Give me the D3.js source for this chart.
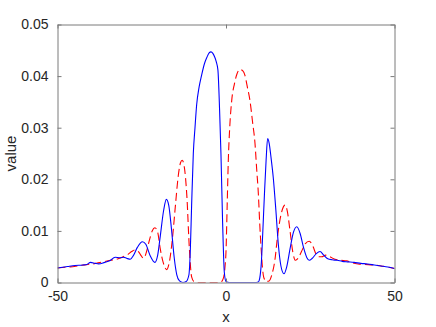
<!DOCTYPE html>
<html>
<head>
<meta charset="utf-8">
<script src="https://cdn.jsdelivr.net/npm/d3@7/dist/d3.min.js"></script>
<style>
  html, body { margin: 0; padding: 0; background: #fff; }
  svg { display: block; }
  text { font-family: "Liberation Sans", Arial, Helvetica, sans-serif; fill: #262626; }
</style>
</head>
<body>
<svg id="chart" width="436" height="327"></svg>
<script>
// ---- data ----
const blueX = [-50, -47, -44.8, -42.5, -41.3, -40.2, -38.8, -37.8, -36, -34.5, -32.9, -31.4, -30.4, -29.5, -28.4,
  -27.5, -26.3, -24.8, -23.8, -22.5, -21.1, -20.3, -19.5, -18.5, -17.7, -17.0, -16.2, -15.4, -14.6, -13.8,
  -12.8, -11.8, -11.0, -10.6, -10.2, -9.7, -9.2, -8.7, -8.0, -7.2, -6.4, -5.7, -5.0, -4.45, -3.9, -3.3,
  -2.9, -2.4, -1.9, -1.5, -1.0, -0.5, 0, 1, 3, 5, 7, 9, 9.6, 10.0, 10.5, 10.9, 11.4, 11.9, 12.35, 12.8,
  13.4, 14.0, 14.8, 15.5, 16.3, 17.2, 18.0, 19.0, 20.0, 21.0, 22.0, 23.0, 24.0, 24.7, 25.6, 26.8, 27.9,
  29.0, 30.2, 31.5, 33, 34.5, 36, 38, 40, 42, 44, 46, 48, 50];
const blueY = [0.0028, 0.0031, 0.0033, 0.0034, 0.0035, 0.0039, 0.0037, 0.0036, 0.0039, 0.0042, 0.0049, 0.0048, 0.0049, 0.0047, 0.0045,
  0.0052, 0.0068, 0.0079, 0.0074, 0.0052, 0.0039, 0.0052, 0.0090, 0.0140, 0.0161, 0.0150, 0.0105, 0.0050, 0.0015, 0.0003,
  0.0000, 0.0002, 0.0015, 0.0060, 0.0150, 0.0250, 0.0300, 0.0345, 0.0378, 0.0403, 0.0424, 0.0436, 0.0445, 0.0447, 0.0444, 0.0436,
  0.0428, 0.0412, 0.0334, 0.0250, 0.0115, 0.0020, 0.0002, 0.0000, 0.0000, 0.0000, 0.0000, 0.0000, 0.0001, 0.0008, 0.0040, 0.0095, 0.0170, 0.0237, 0.0279, 0.0270,
  0.0240, 0.0205, 0.0140, 0.0076, 0.0032, 0.0017, 0.0030, 0.0065, 0.0097, 0.0108, 0.0095, 0.0068, 0.0048, 0.0043, 0.0047, 0.0056, 0.0060,
  0.0053, 0.0046, 0.0044, 0.0043, 0.0041, 0.0040, 0.0039, 0.0037, 0.0036, 0.0034, 0.0032, 0.0030, 0.0027];

const redX = [-50, -47, -45, -43.2, -41, -39.5, -38, -36.5, -35, -33.5, -32, -30.5, -29, -28, -27, -26.0, -25.2,
  -24.5, -23.8, -22.8, -21.9, -21.1, -20.3, -19.5, -18.6, -17.6, -16.8, -15.9, -15.0, -14.2, -13.5, -13.0,
  -12.4, -11.6, -10.9, -10.2, -9.5, -8, -6, -3, -1.5, -0.8, -0.3, 0.0, 0.35, 0.7, 1.1, 1.7, 2.5, 3.3, 4.15,
  5.0, 5.6, 6.3, 7.1, 7.9, 8.6, 9.1, 9.6, 10.0, 10.4, 10.8, 11.2, 12.0, 12.8, 13.6, 14.5, 15.3, 16.0, 16.8,
  17.5, 18.2, 19.0, 19.8, 20.6, 21.4, 22.4, 23.5, 24.7, 25.8, 26.7, 27.4, 28.4, 29.6, 30.8, 32.3, 34, 35.8,
  37.5, 39.2, 41, 43.7, 46, 48, 50];
const redY = [0.0028, 0.0030, 0.0031, 0.0033, 0.0035, 0.0036, 0.0038, 0.0040, 0.0042, 0.0044, 0.0046, 0.0050, 0.0055, 0.0060, 0.0063, 0.0060, 0.0052,
  0.0047, 0.0055, 0.0080, 0.0100, 0.0106, 0.0098, 0.0065, 0.0038, 0.0025, 0.0040, 0.0085, 0.0150, 0.0205, 0.0232, 0.0237,
  0.0225, 0.0166, 0.0069, 0.0011, 0.0002, 0.0000, 0.0000, 0.0000, 0.0001, 0.0008, 0.0030, 0.0060, 0.0150, 0.0240, 0.0300, 0.0353, 0.0385, 0.0405, 0.0413,
  0.0410, 0.0402, 0.0380, 0.0353, 0.0310, 0.0270, 0.0220, 0.0172, 0.0115, 0.0069, 0.0030, 0.0010, 0.0002, 0.0003, 0.0015, 0.0043, 0.0090, 0.0121, 0.0143,
  0.0150, 0.0138, 0.0100, 0.0060, 0.0043, 0.0047, 0.0060, 0.0075, 0.0080, 0.0070, 0.0055, 0.0050, 0.0050, 0.0053, 0.0050, 0.0045, 0.0043, 0.0042,
  0.0038, 0.0036, 0.0035, 0.0034, 0.0032, 0.0030, 0.0027];

const xTicks = [-50, 0, 50];
const yTicks = [0, 0.01, 0.02, 0.03, 0.04, 0.05];
const xLabel = "x";
const yLabel = "value";

// ---- layout ----
const L = 57.5, R = 394.5, T = 24.5, B = 282.5;
const svg = d3.select("#chart");
const x = d3.scaleLinear().domain([-50, 50]).range([L, R]);
const y = d3.scaleLinear().domain([0, 0.05]).range([B, T]);

svg.append("defs").append("clipPath").attr("id", "clip")
  .append("rect").attr("x", L).attr("y", T - 1).attr("width", R - L).attr("height", B - T + 1);

const line = d3.line().x(d => x(d[0])).y(d => y(d[1])).curve(d3.curveMonotoneX);
const plot = svg.append("g").attr("clip-path", "url(#clip)");

plot.append("path")
  .datum(redX.map((v, i) => [v, redY[i]]))
  .attr("d", line).attr("fill", "none").attr("stroke", "#ff0000")
  .attr("stroke-width", 1.1).attr("stroke-dasharray", "8,4");

plot.append("path")
  .datum(blueX.map((v, i) => [v, blueY[i]]))
  .attr("d", line).attr("fill", "none").attr("stroke", "#0000ff")
  .attr("stroke-width", 1.1);

// ---- axes ----
const axisColor = "#7a7a7a";
const tickLen = 4;
const fs = 14;

const gBottom = svg.append("g").attr("transform", `translate(0,${B})`)
  .call(d3.axisBottom(x).tickValues(xTicks).tickSizeInner(-tickLen).tickSizeOuter(0).tickPadding(9)
    .tickFormat(d3.format("d")));
const gTop = svg.append("g").attr("transform", `translate(0,${T})`)
  .call(d3.axisTop(x).tickValues(xTicks).tickSizeInner(-tickLen).tickSizeOuter(0).tickFormat(""));
const gLeft = svg.append("g").attr("transform", `translate(${L},0)`)
  .call(d3.axisLeft(y).tickValues(yTicks).tickSizeInner(-tickLen).tickSizeOuter(0).tickPadding(9)
    .tickFormat(d => d === 0 ? "0" : d3.format(".2f")(d)));
const gRight = svg.append("g").attr("transform", `translate(${R},0)`)
  .call(d3.axisRight(y).tickValues(yTicks).tickSizeInner(-tickLen).tickSizeOuter(0).tickFormat(""));

[gBottom, gTop, gLeft, gRight].forEach(g => {
  g.select(".domain").attr("stroke", axisColor).attr("stroke-width", 1);
  g.selectAll(".tick line").attr("stroke", axisColor).attr("stroke-width", 1);
  g.selectAll(".tick text").attr("font-size", fs).attr("fill", "#262626")
    .attr("font-family", "Liberation Sans, Arial, sans-serif");
});
gBottom.selectAll(".tick text").text(d => d < 0 ? "-" + Math.abs(d) : d);

svg.append("text").attr("x", (L + R) / 2).attr("y", 322).attr("text-anchor", "middle")
  .attr("font-size", 15).text(xLabel);
svg.append("text").attr("transform", `translate(16,${(T + B) / 2}) rotate(-90)`)
  .attr("text-anchor", "middle").attr("font-size", 15).text(yLabel);
</script>
</body>
</html>
